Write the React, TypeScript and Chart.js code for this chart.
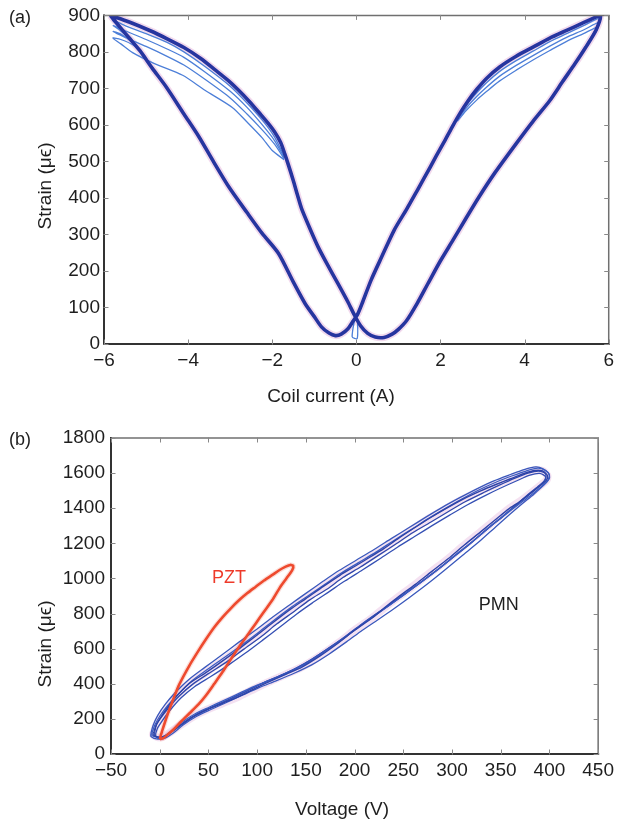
import React, { useEffect, useRef } from 'react';
import { Chart, registerables } from 'chart.js';
Chart.register(...registerables);

const FONT = '"Liberation Sans", Arial, Helvetica, sans-serif';

// ---------- Panel (a): strain vs coil current ----------
const xTicksA = [-6, -4, -2, 0, 2, 4, 6];
const yTicksA = [0, 100, 200, 300, 400, 500, 600, 700, 800, 900];

// main butterfly loop (current A, strain µε)
const butterflyMain = [
  [-5.85, 900], [-5.4, 882], [-4.9, 858], [-4.5, 836], [-4.1, 812], [-3.7, 782], [-3.35, 750], [-3.05, 722],
  [-2.8, 695], [-2.55, 665], [-2.3, 632], [-2.1, 605], [-1.95, 582], [-1.8, 552], [-1.7, 520], [-1.62, 492],
  [-1.5, 448], [-1.4, 408], [-1.3, 370], [-1.1, 315], [-0.91, 266], [-0.7, 220], [-0.44, 166], [-0.2, 115],
  [-0.04, 78], [0.1, 50], [0.27, 29], [0.45, 19], [0.66, 18], [0.85, 27], [1.0, 40],
  [1.2, 65], [1.45, 112], [1.7, 165], [2.0, 228], [2.3, 285], [2.6, 343], [2.9, 400], [3.3, 470], [3.8, 549],
  [4.2, 610], [4.6, 667], [4.9, 718], [5.2, 768], [5.45, 812], [5.7, 860], [5.8, 900],
  [5.4, 880], [5.0, 859], [4.6, 838], [4.2, 813], [3.8, 788], [3.4, 758], [3.1, 728], [2.86, 697], [2.65, 665],
  [2.47, 633], [2.28, 595], [2.08, 552], [1.9, 515], [1.76, 485], [1.6, 452], [1.45, 421], [1.2, 370], [0.9, 312],
  [0.6, 238], [0.35, 175], [0.15, 115], [0.04, 84], [-0.08, 62], [-0.2, 42], [-0.36, 27], [-0.5, 23], [-0.65, 30],
  [-0.83, 47], [-1.0, 75], [-1.22, 111], [-1.5, 170], [-1.85, 248], [-2.24, 303], [-2.6, 360], [-3.03, 430],
  [-3.4, 500], [-3.74, 567], [-4.1, 630], [-4.52, 704], [-4.85, 755], [-5.15, 804], [-5.4, 838], [-5.62, 868], [-5.85, 900],
];

// weaker cycles on the left wing
const leftCycle1 = [[-5.15, 804], [-5.45, 845], [-5.7, 875], [-5.8, 888], [-5.5, 872], [-5.0, 850], [-4.5, 826], [-4.1, 800], [-3.6, 760], [-3.0, 706], [-2.6, 660], [-2.25, 615], [-1.95, 568], [-1.72, 515]];
const leftCycle2 = [[-5.1, 796], [-5.4, 836], [-5.65, 862], [-5.78, 872], [-5.5, 858], [-5.0, 834], [-4.5, 808], [-4.1, 785], [-3.6, 745], [-3.0, 692], [-2.6, 648], [-2.25, 602], [-1.95, 558], [-1.72, 512]];
const leftCycle3 = [[-5.05, 790], [-5.35, 828], [-5.62, 850], [-5.78, 856], [-5.5, 840], [-5.0, 815], [-4.5, 788], [-4.1, 764], [-3.6, 725], [-3.0, 674], [-2.6, 630], [-2.25, 588], [-1.95, 548], [-1.72, 508]];
const leftCycle4 = [[-5.0, 782], [-5.3, 818], [-5.6, 834], [-5.79, 838], [-5.6, 822], [-5.32, 798], [-4.8, 768], [-4.13, 736], [-3.6, 695], [-2.95, 648], [-2.6, 608], [-2.25, 566], [-2.0, 530], [-1.72, 505]];
// weaker cycles on the right wing
const rightCycle1 = [[5.2, 768], [5.5, 825], [5.72, 868], [5.78, 892], [5.4, 872], [5.0, 850], [4.6, 828], [4.2, 802], [3.8, 776], [3.4, 746], [3.1, 716], [2.86, 688], [2.6, 652], [2.4, 618]];
const rightCycle2 = [[5.15, 760], [5.45, 812], [5.7, 858], [5.76, 880], [5.4, 860], [5.0, 840], [4.6, 816], [4.2, 790], [3.8, 763], [3.4, 733], [3.1, 704], [2.86, 678], [2.6, 645], [2.4, 614]];
const rightCycle3 = [[5.1, 752], [5.4, 802], [5.66, 848], [5.74, 868], [5.4, 850], [5.0, 829], [4.6, 804], [4.2, 778], [3.8, 750], [3.4, 720], [3.1, 692], [2.86, 668], [2.6, 638], [2.4, 610]];
const startSpike = [[-0.02, 80], [-0.1, 20], [0.02, 15], [0.03, 62]];

// ---------- Panel (b): strain vs voltage ----------
const xTicksB = [-50, 0, 50, 100, 150, 200, 250, 300, 350, 400, 450];
const yTicksB = [0, 200, 400, 600, 800, 1000, 1200, 1400, 1600, 1800];

const pmnLoop1 = [
  [-6, 125], [-4, 160], [0, 200], [6, 250], [15, 315], [30, 400], [47, 462], [65, 532], [82, 602], [100, 678],
  [116, 748], [135, 828], [150, 885], [168, 955], [185, 1018], [200, 1068], [211, 1105], [230, 1170], [245, 1228],
  [262, 1290], [279, 1350], [295, 1402], [310, 1448], [330, 1500], [345, 1535], [360, 1568], [374, 1598], [385, 1615],
  [393, 1612], [398, 1585], [397, 1560], [392, 1535], [383, 1495], [370, 1440], [358, 1395], [347, 1346], [330, 1268],
  [313, 1192], [296, 1112], [279, 1039], [262, 965], [245, 895], [230, 830], [218, 775], [200, 705], [184, 635],
  [165, 560], [146, 495], [130, 455], [116, 421], [100, 380], [82, 330], [65, 290], [48, 251], [35, 215], [20, 160],
  [10, 120], [3, 98], [-3, 98], [-7, 112], [-6, 125],
];
const pmnLoop2 = [
  [-8, 120], [-5, 165], [0, 215], [8, 275], [18, 335], [32, 412], [48, 478], [66, 548], [84, 620], [102, 695],
  [118, 765], [136, 840], [152, 900], [170, 968], [186, 1030], [204, 1090], [222, 1150], [240, 1215], [258, 1278],
  [276, 1342], [292, 1395], [310, 1452], [328, 1505], [345, 1548], [362, 1585], [376, 1612], [388, 1628], [395, 1618],
  [400, 1590], [398, 1555], [390, 1515], [380, 1470], [368, 1420], [355, 1365], [340, 1300], [322, 1215], [305, 1140],
  [288, 1062], [270, 985], [252, 912], [236, 848], [220, 785], [204, 722], [188, 655], [170, 585], [152, 520],
  [135, 472], [118, 430], [100, 392], [84, 352], [66, 305], [50, 265], [36, 228], [22, 178], [12, 130], [4, 100],
  [-2, 95], [-8, 105], [-8, 120],
];
const pmnLoop3 = [
  [-4, 120], [-2, 150], [2, 185], [10, 245], [22, 320], [36, 385], [52, 440], [70, 505], [88, 575], [106, 650],
  [122, 718], [140, 795], [156, 858], [174, 925], [190, 985], [208, 1048], [226, 1112], [244, 1178], [262, 1240],
  [280, 1302], [298, 1362], [316, 1420], [334, 1472], [350, 1515], [366, 1555], [380, 1588], [390, 1598], [396, 1580],
  [394, 1548], [386, 1510], [375, 1458], [362, 1400], [350, 1345], [336, 1280], [318, 1195], [300, 1115], [284, 1045],
  [266, 970], [250, 905], [234, 842], [220, 790], [206, 735], [190, 668], [174, 605], [156, 540], [140, 490],
  [124, 448], [108, 410], [90, 360], [72, 312], [55, 270], [40, 232], [26, 185], [14, 135], [6, 100], [0, 88],
  [-4, 100], [-4, 120],
];
const pmnLoop4 = [
  [-9, 118], [-7, 160], [-2, 220], [6, 285], [16, 350], [30, 425], [46, 492], [64, 565], [82, 640], [100, 712],
  [116, 780], [134, 852], [150, 915], [168, 985], [184, 1045], [202, 1105], [220, 1165], [238, 1228], [256, 1290],
  [274, 1352], [290, 1405], [308, 1460], [326, 1512], [343, 1556], [360, 1592], [374, 1620], [386, 1635], [393, 1626],
  [399, 1600], [400, 1570], [394, 1530], [384, 1480], [372, 1425], [360, 1368], [345, 1295], [328, 1210], [310, 1128],
  [292, 1045], [274, 965], [256, 890], [240, 826], [224, 765], [208, 705], [192, 640], [174, 570], [156, 508],
  [138, 460], [120, 418], [102, 378], [86, 338], [68, 292], [52, 252], [38, 215], [24, 165], [14, 120], [6, 92],
  [-2, 85], [-9, 100], [-9, 118],
];
const pmnLoop5 = [
  [-5, 130], [-3, 172], [1, 205], [9, 262], [20, 330], [34, 398], [50, 458], [68, 522], [86, 596], [104, 668],
  [120, 740], [138, 812], [154, 878], [172, 940], [188, 1005], [206, 1065], [224, 1130], [242, 1195], [260, 1262],
  [278, 1320], [296, 1380], [314, 1438], [332, 1488], [348, 1530], [364, 1570], [378, 1600], [389, 1612], [396, 1596],
  [396, 1565], [388, 1522], [378, 1478], [365, 1415], [352, 1352], [338, 1290], [320, 1205], [302, 1125], [286, 1052],
  [268, 978], [251, 910], [235, 846], [221, 792], [205, 728], [189, 662], [172, 598], [154, 532], [138, 482],
  [121, 440], [104, 400], [87, 352], [69, 306], [52, 262], [38, 224], [24, 172], [13, 128], [5, 98], [-1, 90],
  [-5, 108], [-5, 130],
];
const pztLoop = [
  [0, 85], [3, 140], [8, 225], [13.6, 308], [20, 395], [30.6, 505], [40, 590], [47.6, 655], [56, 722], [64.6, 780],
  [73, 830], [81.6, 877], [90, 917], [98.6, 953], [107, 988], [115.6, 1020], [123, 1048], [129.3, 1067], [134, 1077],
  [137, 1072], [136, 1048], [130, 1000], [123, 945], [115.6, 877], [107, 810], [98.6, 744], [90, 676], [81.6, 611],
  [73, 540], [64.6, 468], [56, 400], [47.6, 335], [40, 284], [30.6, 232], [22, 185], [13.6, 137], [8, 110], [3.4, 89], [0, 85],
];

const pts = (arr: number[][]) => arr.map(([x, y]) => ({ x, y }));
const fmt = (v: number) => String(v).replace('-', '\u2212');

function line(data: number[][], color: string, width: number, order: number) {
  return {
    data: pts(data),
    showLine: true,
    borderColor: color,
    backgroundColor: color,
    borderWidth: width,
    pointRadius: 0,
    tension: 0.25,
    fill: false,
    order,
  };
}

const framePlugin = {
  id: 'frame',
  afterDatasetsDraw(chart: any) {
    const { ctx, chartArea } = chart;
    const { left, top, right, bottom } = chartArea;
    const xs = chart.scales.x;
    const ys = chart.scales.y;
    ctx.save();
    ctx.lineCap = 'square';
    ctx.strokeStyle = '#707070';
    ctx.lineWidth = 1.5;
    ctx.beginPath();
    ctx.moveTo(left, top); ctx.lineTo(right, top); ctx.lineTo(right, bottom);
    ctx.stroke();
    ctx.strokeStyle = '#333';
    ctx.lineWidth = 2;
    ctx.beginPath();
    ctx.moveTo(left, top); ctx.lineTo(left, bottom); ctx.lineTo(right, bottom);
    ctx.stroke();
    ctx.strokeStyle = '#888';
    ctx.lineWidth = 1;
    ctx.beginPath();
    xs.ticks.forEach((t: any) => {
      const px = Math.round(xs.getPixelForValue(t.value)) + 0.5;
      ctx.moveTo(px, bottom); ctx.lineTo(px, bottom - 4);
      ctx.moveTo(px, top); ctx.lineTo(px, top + 4);
    });
    ys.ticks.forEach((t: any) => {
      const py = Math.round(ys.getPixelForValue(t.value)) + 0.5;
      ctx.moveTo(left, py); ctx.lineTo(left + 4, py);
      ctx.moveTo(right, py); ctx.lineTo(right - 4, py);
    });
    ctx.stroke();
    ctx.restore();
  },
};

type TextItem = { text: string; x?: number; y?: number; data?: number[]; rotate?: number; color: string; size: number };
function textPlugin(items: TextItem[]) {
  return {
    id: 'texts',
    afterDraw(chart: any) {
      const ctx = chart.ctx;
      items.forEach((it) => {
        ctx.save();
        ctx.font = `${it.size}px ${FONT}`;
        ctx.fillStyle = it.color;
        ctx.textAlign = 'center';
        ctx.textBaseline = 'middle';
        let x = it.x ?? 0;
        let y = it.y ?? 0;
        if (it.data) {
          x = chart.scales.x.getPixelForValue(it.data[0]);
          y = chart.scales.y.getPixelForValue(it.data[1]);
        }
        ctx.translate(x, y);
        if (it.rotate) ctx.rotate(it.rotate);
        ctx.fillText(it.text, 0, 0);
        ctx.restore();
      });
    },
  };
}

function axes(xMin: number, xMax: number, yMin: number, yMax: number, xTicks: number[], yTicks: number[], yWidth: number, xHeight: number, yPad: number) {
  const tickFont = { family: FONT, size: 19 };
  return {
    x: {
      type: 'linear',
      min: xMin,
      max: xMax,
      afterBuildTicks: (s: any) => { s.ticks = xTicks.map((v) => ({ value: v })); },
      afterFit: (s: any) => { s.height = xHeight; },
      grid: { display: false, drawTicks: false },
      border: { display: false },
      ticks: { padding: 5, font: tickFont, color: '#1e1e1e', maxRotation: 0, autoSkip: false, callback: (v: number) => fmt(v) },
    },
    y: {
      type: 'linear',
      min: yMin,
      max: yMax,
      afterBuildTicks: (s: any) => { s.ticks = yTicks.map((v) => ({ value: v })); },
      afterFit: (s: any) => { s.width = yWidth; },
      grid: { display: false, drawTicks: false },
      border: { display: false },
      ticks: { padding: yPad, font: tickFont, color: '#1e1e1e', autoSkip: false, callback: (v: number) => fmt(v) },
    },
  };
}

const MAIN = '#26359f';
const THIN = '#4d7fd8';

function configA() {
  return {
    type: 'scatter',
    data: {
      datasets: [
        line(butterflyMain, MAIN, 3.6, 1),
        line(leftCycle1, THIN, 1.3, 2),
        line(leftCycle2, THIN, 1.3, 2),
        line(leftCycle3, THIN, 1.3, 2),
        line(leftCycle4, THIN, 1.3, 2),
        line(rightCycle1, THIN, 1.3, 2),
        line(rightCycle2, THIN, 1.3, 2),
        line(rightCycle3, THIN, 1.3, 2),
        line(startSpike, THIN, 1.3, 2),
        line(butterflyMain, 'rgba(205,120,190,0.28)', 7, 5),
      ],
    },
    options: {
      responsive: false,
      animation: false,
      devicePixelRatio: 1,
      layout: { padding: { top: 15, right: 6, left: 0, bottom: 0 } },
      plugins: { legend: { display: false }, tooltip: { enabled: false } },
      scales: axes(-6, 6, 0, 900, xTicksA, yTicksA, 104, 66, 4),
    },
    plugins: [
      framePlugin,
      textPlugin([
        { text: '(a)', x: 20, y: 18, color: '#1e1e1e', size: 18 },
        { text: 'Coil current (A)', x: 331, y: 397, color: '#1e1e1e', size: 19 },
        { text: 'Strain (\u03bc\u03f5)', x: 46, y: 186, rotate: -Math.PI / 2, color: '#1e1e1e', size: 19 },
      ]),
    ],
  };
}

function configB() {
  return {
    type: 'scatter',
    data: {
      datasets: [
        line(pztLoop, '#ee4a2e', 2.6, 0),
        line(pmnLoop1, '#2e43a8', 1.4, 1),
        line(pmnLoop2, '#3a5cc0', 1.3, 2),
        line(pmnLoop3, '#3550b4', 1.3, 2),
        line(pmnLoop4, '#3a58bc', 1.3, 2),
        line(pmnLoop5, '#2f46aa', 1.3, 2),
        line(pmnLoop1, 'rgba(205,120,190,0.22)', 8, 5),
        line(pztLoop, 'rgba(240,120,100,0.25)', 5, 5),
      ],
    },
    options: {
      responsive: false,
      animation: false,
      devicePixelRatio: 1,
      layout: { padding: { top: 28, right: 18, left: 0, bottom: 0 } },
      plugins: { legend: { display: false }, tooltip: { enabled: false } },
      scales: axes(-50, 450, 0, 1800, xTicksB, yTicksB, 111, 68, 6),
    },
    plugins: [
      framePlugin,
      textPlugin([
        { text: '(b)', x: 20, y: 30, color: '#1e1e1e', size: 18 },
        { text: 'Voltage (V)', x: 342, y: 400, color: '#1e1e1e', size: 19 },
        { text: 'Strain (\u03bc\u03f5)', x: 46, y: 234, rotate: -Math.PI / 2, color: '#1e1e1e', size: 19 },
        { text: 'PZT', data: [71, 1000], color: '#ee3a2a', size: 18 },
        { text: 'PMN', data: [348, 849], color: '#1e1e1e', size: 18 },
      ]),
    ],
  };
}

function ChartCanvas({ make, top, height }: { make: () => any; top: number; height: number }) {
  const ref = useRef<HTMLCanvasElement | null>(null);
  useEffect(() => {
    if (!ref.current) return;
    const chart = new Chart(ref.current, make());
    return () => chart.destroy();
  }, []);
  return (
    <canvas
      ref={ref}
      width={619}
      height={height}
      style={{ position: 'absolute', left: 0, top, width: 619, height, display: 'block' }}
    />
  );
}

export default function App() {
  return (
    <div style={{ position: 'absolute', left: 0, top: 0, width: 619, height: 822, background: '#ffffff', overflow: 'hidden' }}>
      <ChartCanvas make={configA} top={0} height={410} />
      <ChartCanvas make={configB} top={410} height={412} />
    </div>
  );
}
